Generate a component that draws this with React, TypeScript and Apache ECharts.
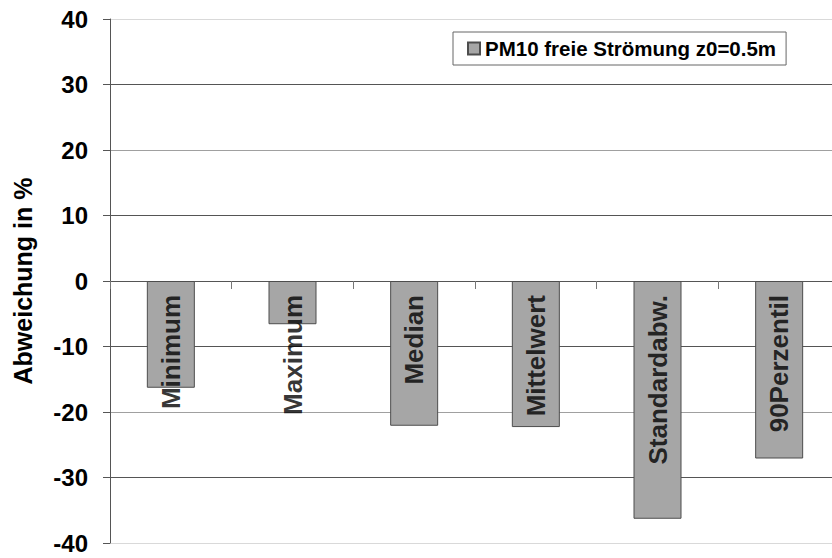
import React, { useEffect, useRef } from "react";
import * as echarts from "echarts";

const categories = ["Minimum", "Maximum", "Median", "Mittelwert", "Standardabw.", "90Perzentil"];
const values = [-16.3, -6.6, -22.1, -22.3, -36.3, -27.1];
const seriesName = "PM10 freie Strömung z0=0.5m";
const yAxisTitle = "Abweichung in %";
const gridColors = ["#d9d9d9", "#555555", "#a0a0a0", "#555555", "#555555", "#555555", "#a0a0a0", "#555555", "#d9d9d9"];

export default function App() {
  const ref = useRef<HTMLDivElement>(null);
  useEffect(() => {
    if (!ref.current) return;
    const chart = echarts.init(ref.current, undefined, { renderer: "svg" });
    const font = "'Liberation Sans', Arial, sans-serif";
    chart.setOption({
      animation: false,
      backgroundColor: "#ffffff",
      textStyle: { fontFamily: font },
      legend: {
        left: 453,
        top: 32,
        padding: [6, 10, 6, 14],
        borderColor: "#666666",
        borderWidth: 1,
        backgroundColor: "#ffffff",
        itemWidth: 12,
        itemHeight: 12,
        icon: "rect",
        textStyle: { fontSize: 20.5, fontWeight: "bold", color: "#000", fontFamily: font },
        data: [seriesName],
      },
      grid: { left: 110, top: 19, width: 730, height: 524, containLabel: false, outerBoundsMode: "none" },
      xAxis: {
        type: "category",
        data: categories,
        axisLine: { onZero: true, lineStyle: { color: "#555555", width: 1 } },
        axisTick: { show: true, length: 8, lineStyle: { color: "#777777" } },
        axisLabel: { show: false },
        splitLine: { show: false },
      },
      yAxis: {
        type: "value",
        min: -40,
        max: 40,
        interval: 10,
        name: yAxisTitle,
        nameLocation: "middle",
        nameRotate: 90,
        nameGap: 75,
        nameTextStyle: { fontSize: 25, fontWeight: "bold", color: "#000", fontFamily: font },
        axisLine: { show: true, lineStyle: { color: "#555555" } },
        axisTick: { show: true, length: 7, lineStyle: { color: "#555555" } },
        axisLabel: { margin: 22, fontSize: 24, lineHeight: 18, fontWeight: "bold", color: "#000", fontFamily: font },
        splitLine: { show: true, lineStyle: { color: gridColors, width: 1 } },
      },
      series: [
        {
          name: seriesName,
          type: "bar",
          data: values,
          barWidth: 48,
          itemStyle: { color: "#a6a6a6", borderColor: "#4d4d4d", borderWidth: 1 },
        },
        {
          name: "labels",
          type: "scatter",
          data: categories.map((c) => [c, 0]),
          symbolSize: 0,
          silent: true,
          z: 10,
          label: {
            show: true,
            formatter: (p: any) => p.name || p.value[0],
            position: [0, 14],
            rotate: 90,
            align: "right",
            verticalAlign: "middle",
            fontSize: 26,
            fontWeight: "bold",
            color: "#000",
            fontFamily: font,
          },
        },
      ],
    });
    return () => chart.dispose();
  }, []);
  return (
    <div
      ref={ref}
      style={{ position: "fixed", left: 0, top: 0, width: 832, height: 558, background: "#fff" }}
    />
  );
}
